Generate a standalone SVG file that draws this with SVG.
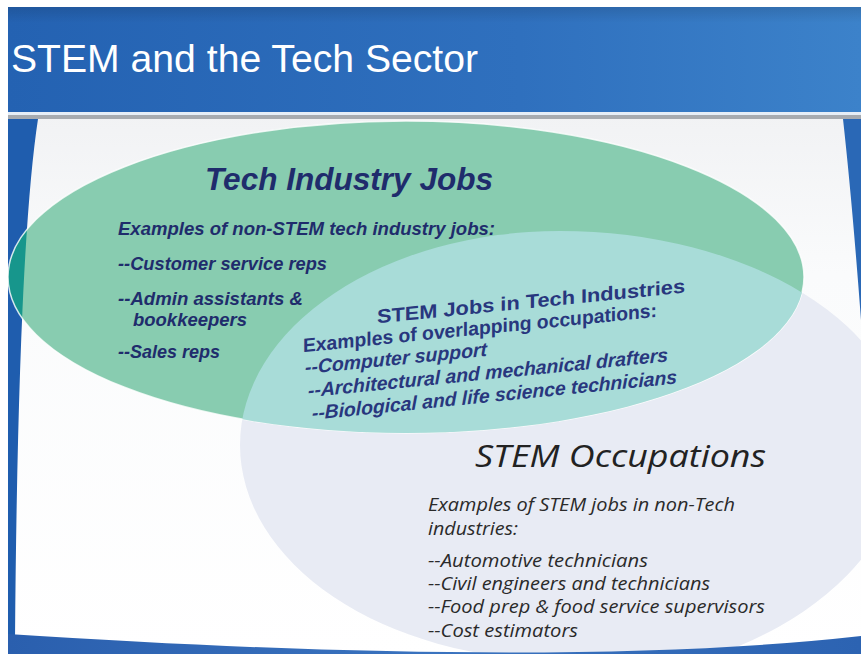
<svg xmlns="http://www.w3.org/2000/svg" width="861" height="654" viewBox="0 0 861 654">
  <defs>
    <linearGradient id="hdr" x1="0" y1="0" x2="1" y2="0">
      <stop offset="0" stop-color="#2462B2"/>
      <stop offset="0.6" stop-color="#2F70BE"/>
      <stop offset="1" stop-color="#3C82CA"/>
    </linearGradient>
    <linearGradient id="hdrV" x1="0" y1="0" x2="0" y2="1">
      <stop offset="0" stop-color="#000" stop-opacity="0.12"/>
      <stop offset="0.15" stop-color="#000" stop-opacity="0"/>
      <stop offset="1" stop-color="#000" stop-opacity="0"/>
    </linearGradient>
    <linearGradient id="body" x1="0" y1="0" x2="0" y2="1">
      <stop offset="0" stop-color="#F1F2F4"/>
      <stop offset="0.3" stop-color="#FAFBFC"/>
      <stop offset="1" stop-color="#FFFFFF"/>
    </linearGradient>
    <linearGradient id="band" x1="0" y1="0" x2="1" y2="0">
      <stop offset="0" stop-color="#2A5FAE"/>
      <stop offset="0.5" stop-color="#3A73BF"/>
      <stop offset="1" stop-color="#2C63B2"/>
    </linearGradient>
    <path id="stemShape" d="M240,445 A320,214 0 0 1 560,231 A345,214 0 0 1 905,445 A345,235 0 0 1 560,680 L560,660 A320,215 0 0 1 240,445 Z"/>
    <path id="leftWedge" d="M8,119 L38,119 Q18,250 15,640 L8,640 Z"/>
    <clipPath id="greenClip">
      <ellipse cx="406" cy="277" rx="398" ry="156"/>
    </clipPath>
    <clipPath id="slideClip">
      <rect x="8" y="7" width="853" height="647"/>
    </clipPath>
    <style>
      .title { font-family: "Liberation Sans", Arial, sans-serif; font-size: 39px; fill: #FFFFFF; }
      .tij { font-family: "Liberation Sans", Arial, sans-serif; font-weight: bold; font-style: italic; fill: #1F2C6C; }
      .ov { font-family: "Liberation Sans", Arial, sans-serif; font-weight: bold; fill: #28377E; font-size: 19.5px; }
      .ovi { font-style: italic; }
      .so { font-family: "Open Sans", "Liberation Sans", sans-serif; font-style: italic; fill: #222222; }
      .sosm { font-size: 17.5px; fill: #2A2A2A; }
    </style>
  </defs>

  <rect x="0" y="0" width="861" height="654" fill="#FFFFFF"/>

  <g id="frame" clip-path="url(#slideClip)">
    <rect x="8" y="112" width="853" height="542" fill="url(#body)"/>
    <rect x="8" y="7" width="853" height="106" fill="url(#hdr)"/>
    <rect x="8" y="7" width="853" height="106" fill="url(#hdrV)"/>
    <rect x="8" y="112" width="853" height="3" fill="#E6EEF7"/>
    <rect x="8" y="115" width="853" height="4" fill="#8E9399" opacity="0.75"/>
    <use href="#leftWedge" fill="#1F5DAE"/>
    <path d="M843,119 L861,119 L861,320 Q852,200 843,119 Z" fill="#2A68B6"/>
  </g>

  <g id="stem-occupations" clip-path="url(#slideClip)">
    <use href="#stemShape" fill="#E8EBF4"/>
  </g>

  <g id="tech-industry-jobs">
    <ellipse cx="406" cy="277" rx="398" ry="156" fill="#88CCB0"/>
    <g clip-path="url(#greenClip)">
      <use href="#leftWedge" fill="#17968C"/>
    </g>
    <ellipse cx="406" cy="277" rx="398" ry="156" fill="none" stroke="#FFFFFF" stroke-width="1.5" opacity="0.8"/>
  </g>

  <g id="stem-jobs-in-tech" clip-path="url(#greenClip)">
    <use href="#stemShape" fill="#A8DCD8"/>
  </g>

  <g id="bottom-band">
    <path d="M8,634 Q560,670 861,636 L861,654 L8,654 Z" fill="url(#band)"/>
  </g>

  <g id="connectors"></g>

  <text class="title" x="11" y="72" textLength="467" lengthAdjust="spacingAndGlyphs">STEM and the Tech Sector</text>

  <g id="tech-text">
    <text class="tij" x="205" y="190" font-size="31" textLength="288" lengthAdjust="spacingAndGlyphs">Tech Industry Jobs</text>
    <text class="tij" x="118" y="235" font-size="18" textLength="377" lengthAdjust="spacingAndGlyphs">Examples of non-STEM tech industry jobs:</text>
    <text class="tij" x="118" y="270" font-size="18.5" textLength="209" lengthAdjust="spacingAndGlyphs">--Customer service reps</text>
    <text class="tij" x="118" y="304.5" font-size="18" textLength="185" lengthAdjust="spacingAndGlyphs">--Admin assistants &amp;</text>
    <text class="tij" x="133" y="325.5" font-size="18" textLength="114" lengthAdjust="spacingAndGlyphs">bookkeepers</text>
    <text class="tij" x="118" y="358" font-size="18.5" textLength="102" lengthAdjust="spacingAndGlyphs">--Sales reps</text>
  </g>

  <g id="overlap-text" transform="skewY(-5.7)">
    <text class="ov" x="377" y="361" font-size="20.5" textLength="308" lengthAdjust="spacingAndGlyphs">STEM Jobs in Tech Industries</text>
    <text class="ov" x="303" y="382.5" textLength="354" lengthAdjust="spacingAndGlyphs">Examples of overlapping occupations:</text>
    <text class="ov ovi" x="305" y="404.5" textLength="182" lengthAdjust="spacingAndGlyphs">--Computer support</text>
    <text class="ov ovi" x="308" y="428" textLength="360" lengthAdjust="spacingAndGlyphs">--Architectural and mechanical drafters</text>
    <text class="ov ovi" x="312" y="451" textLength="365" lengthAdjust="spacingAndGlyphs">--Biological and life science technicians</text>
  </g>

  <g id="stem-text">
    <text class="so" x="475" y="467" font-size="31" textLength="291" lengthAdjust="spacingAndGlyphs">STEM Occupations</text>
    <text class="so sosm" x="428" y="511" textLength="307" lengthAdjust="spacingAndGlyphs">Examples of STEM jobs in non-Tech</text>
    <text class="so sosm" x="428" y="535" textLength="90" lengthAdjust="spacingAndGlyphs">industries:</text>
    <text class="so sosm" x="428" y="567" textLength="220" lengthAdjust="spacingAndGlyphs">--Automotive technicians</text>
    <text class="so sosm" x="428" y="590" textLength="282" lengthAdjust="spacingAndGlyphs">--Civil engineers and technicians</text>
    <text class="so sosm" x="428" y="613" textLength="337" lengthAdjust="spacingAndGlyphs">--Food prep &amp; food service supervisors</text>
    <text class="so sosm" x="428" y="637" textLength="150" lengthAdjust="spacingAndGlyphs">--Cost estimators</text>
  </g>
</svg>
